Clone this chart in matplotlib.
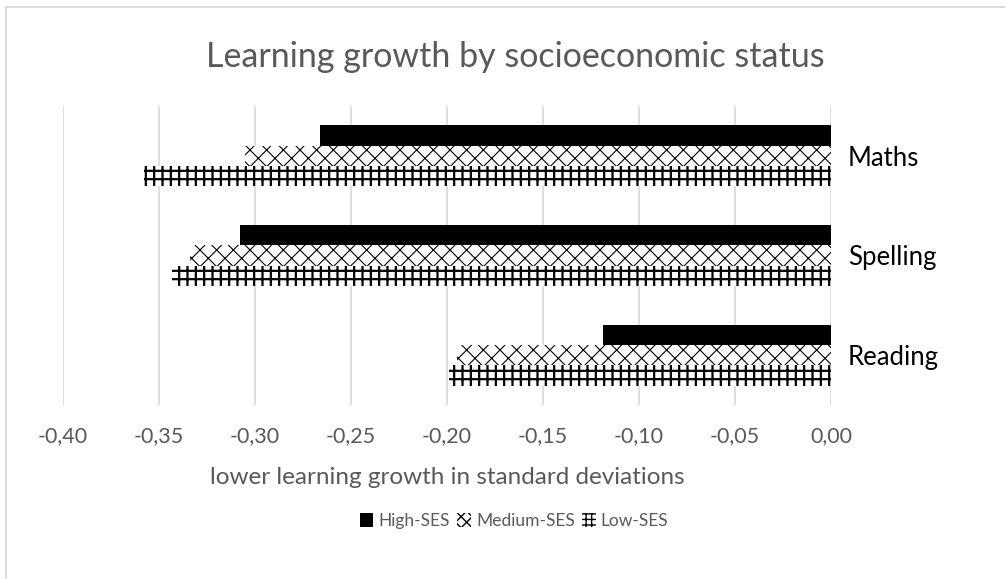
import matplotlib
matplotlib.use("Agg")
import matplotlib.pyplot as plt
from matplotlib.patches import Patch, Rectangle
from matplotlib.ticker import FuncFormatter, MultipleLocator

# subjects, listed bottom to top as they appear on the y axis
subjects = ["Reading", "Spelling", "Maths"]
series = ["High-SES", "Medium-SES", "Low-SES"]
high_ses = [-0.119, -0.308, -0.266]
medium_ses = [-0.195, -0.334, -0.305]
low_ses = [-0.199, -0.343, -0.358]

GRAY = "#595959"
GRID = "#d9d9d9"

plt.rcParams["font.family"] = ["Lato", "DejaVu Sans"]
plt.rcParams["hatch.linewidth"] = 1.0

W, H = 1005, 579
fig = plt.figure(figsize=(W / 100, H / 100), dpi=100)

# plot area in pixel units, converted to figure fractions
left, right, top, bottom = 63, 831, 106, 405
ax = fig.add_axes([left / W, 1 - bottom / H, (right - left) / W, (bottom - top) / H])

h = 0.203
ypos = list(range(len(subjects)))
styles = [
    (high_ses, dict(color="black", edgecolor="black", hatch=None), h, 1.0),
    (medium_ses, dict(color="white", edgecolor="black", hatch="xx"), 0.0, 0.8),
    (low_ses, dict(color="white", edgecolor="black", hatch="++"), -h, 1.6),
]
for vals, kw, off, hlw in styles:
    bars = ax.barh([y + off for y in ypos], vals, height=h, linewidth=0, **kw)
    for b in bars:
        if hasattr(b, "set_hatch_linewidth"):
            b.set_hatch_linewidth(hlw)

ax.set_xlim(-0.40, 0.0)
ax.set_ylim(-0.5, len(subjects) - 0.5)
ax.xaxis.set_major_locator(MultipleLocator(0.05))
ax.xaxis.set_major_formatter(FuncFormatter(lambda v, p: f"{v:.2f}".replace(".", ",").replace("-0,00", "0,00")))
ax.grid(axis="x", color=GRID, linewidth=1.2)
ax.set_axisbelow(True)
for s in ax.spines.values():
    s.set_visible(False)

ax.yaxis.tick_right()
ax.set_yticks(ypos)
ax.set_yticklabels(subjects, fontsize=18.5, color="black")
ax.tick_params(axis="y", length=0, pad=12)
ax.tick_params(axis="x", length=0, pad=15, labelsize=15.5, labelcolor=GRAY)

fig.text(447 / W, 1 - 478 / H, "lower learning growth in standard deviations",
         ha="center", va="center", fontsize=17.5, color=GRAY)
fig.text(515 / W, 1 - 57 / H, "Learning growth by socioeconomic status",
         ha="center", va="center", fontsize=24.5, color=GRAY)

handles = [
    Patch(facecolor="black", edgecolor="black", linewidth=0),
    Patch(facecolor="white", edgecolor="black", hatch="xxx", linewidth=0),
    Patch(facecolor="white", edgecolor="black", hatch="+++", linewidth=0),
]
fig.legend(handles, series, loc="center", bbox_to_anchor=(514 / W, 1 - 521 / H),
           ncol=3, frameon=False, fontsize=12.5, labelcolor=GRAY,
           handlelength=0.8, handleheight=0.8, handletextpad=0.3, columnspacing=0.4)

# chart area outline
fig.patches.append(Rectangle((6 / W, -0.1), 1.2, 1 - 7 / H + 0.1, transform=fig.transFigure,
                             fill=False, edgecolor=GRID, linewidth=1.3))

fig.savefig("out.png", dpi=100, facecolor="white")
